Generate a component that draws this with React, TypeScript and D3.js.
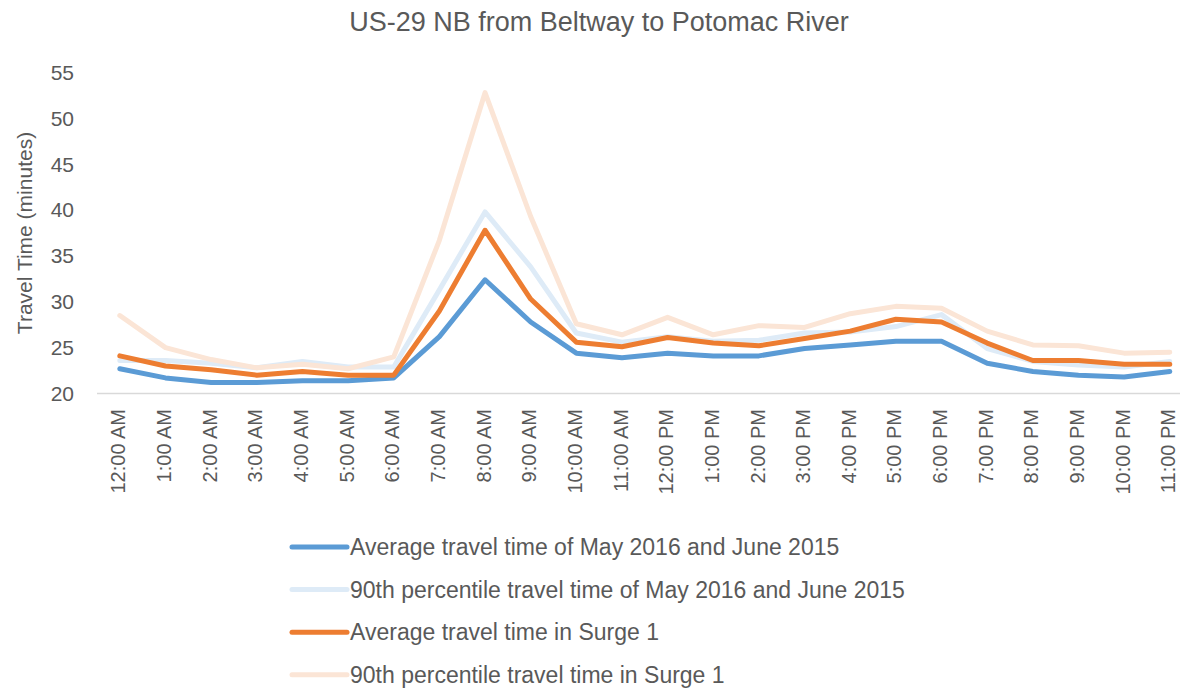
import React from 'react';
import * as d3 from 'd3';

// hourly labels along the x axis
const hours = [
  '12:00 AM', '1:00 AM', '2:00 AM', '3:00 AM', '4:00 AM', '5:00 AM',
  '6:00 AM', '7:00 AM', '8:00 AM', '9:00 AM', '10:00 AM', '11:00 AM',
  '12:00 PM', '1:00 PM', '2:00 PM', '3:00 PM', '4:00 PM', '5:00 PM',
  '6:00 PM', '7:00 PM', '8:00 PM', '9:00 PM', '10:00 PM', '11:00 PM',
];

// travel times in minutes
const avgBase = [
  22.7, 21.7, 21.2, 21.2, 21.4, 21.4, 21.7, 26.2, 32.4, 27.8, 24.4, 23.9,
  24.4, 24.1, 24.1, 24.9, 25.3, 25.7, 25.7, 23.3, 22.4, 22.0, 21.8, 22.4,
];
const p90Base = [
  23.6, 23.6, 23.3, 22.8, 23.5, 22.9, 22.9, 31.3, 39.8, 33.8, 26.6, 25.6,
  26.2, 25.7, 25.8, 26.6, 26.7, 27.3, 28.6, 24.9, 23.5, 23.1, 22.9, 23.5,
];
const avgSurge = [
  24.1, 23.0, 22.6, 22.0, 22.4, 22.0, 22.0, 29.0, 37.8, 30.3, 25.6, 25.1,
  26.1, 25.5, 25.2, 26.0, 26.8, 28.1, 27.8, 25.5, 23.6, 23.6, 23.2, 23.2,
];
const p90Surge = [
  28.5, 25.0, 23.7, 22.8, 23.2, 22.7, 24.0, 36.7, 52.8, 39.3, 27.6, 26.4,
  28.3, 26.4, 27.4, 27.2, 28.7, 29.5, 29.3, 26.8, 25.3, 25.2, 24.4, 24.5,
];

const yTicks = [20, 25, 30, 35, 40, 45, 50, 55];

const seriesList = [
  { name: 'Average travel time of May 2016 and June 2015', values: avgBase, color: '#5b9bd5' },
  { name: '90th percentile travel time of May 2016 and June 2015', values: p90Base, color: '#deebf7' },
  { name: 'Average travel time in Surge 1', values: avgSurge, color: '#ed7d31' },
  { name: '90th percentile travel time in Surge 1', values: p90Surge, color: '#fbe5d6' },
];

const W = 1180;
const H = 689;
const TEXT = '#595959';
const FONT = '"Liberation Sans", Arial, sans-serif';

export default function App() {
  const x = d3.scaleBand<string>().domain(hours).range([97, 97 + 24 * 45.65]);
  const y = d3.scaleLinear().domain([20, 55]).range([393.5, 72.5]);

  const line = d3
    .line<number>()
    .x((_, i) => (x(hours[i]) as number) + x.bandwidth() / 2)
    .y((d) => y(d));

  return (
    <svg
      width={W}
      height={H}
      style={{ position: 'absolute', left: 0, top: 0, background: '#fff' }}
      fontFamily={FONT}
    >
      <text x={599} y={31} textAnchor="middle" fontSize={27} fill={TEXT}>
        US-29 NB from Beltway to Potomac River
      </text>

      {/* y axis title */}
      <text
        transform={`translate(32, 233) rotate(-90)`}
        textAnchor="middle"
        fontSize={21}
        fill={TEXT}
      >
        Travel Time (minutes)
      </text>

      {yTicks.map((t) => (
        <text key={t} x={74} y={y(t)} dy="0.35em" textAnchor="end" fontSize={21} fill={TEXT}>
          {t}
        </text>
      ))}

      <line x1={97} x2={W} y1={y(20)} y2={y(20)} stroke="#d9d9d9" strokeWidth={1.5} />

      {hours.map((h) => {
        const cx = (x(h) as number) + x.bandwidth() / 2;
        return (
          <text
            key={h}
            transform={`translate(${cx}, 409) rotate(-90)`}
            textAnchor="end"
            dy="0.28em"
            fontSize={20}
            fill={TEXT}
          >
            {h}
          </text>
        );
      })}

      {seriesList.map((s) => (
        <path
          key={s.name}
          d={line(s.values) || ''}
          fill="none"
          stroke={s.color}
          strokeWidth={5}
          strokeLinejoin="round"
          strokeLinecap="round"
        />
      ))}

      {seriesList.map((s, i) => {
        const ly = 547 + i * 42.6;
        return (
          <g key={s.name}>
            <line x1={292} x2={347} y1={ly} y2={ly} stroke={s.color} strokeWidth={5} strokeLinecap="round" />
            <text x={350} y={ly + 8} fontSize={23} fill={TEXT}>
              {s.name}
            </text>
          </g>
        );
      })}
    </svg>
  );
}
